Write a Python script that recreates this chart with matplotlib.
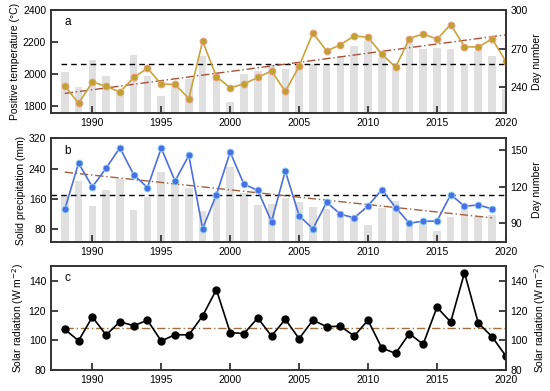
import numpy as np
import matplotlib
matplotlib.use("Agg")
import matplotlib.pyplot as plt

plt.rcParams['font.family'] = ['Liberation Sans', 'DejaVu Sans']

# --- data ---
years_a = list(range(1988, 2021))
temp_bars = [2016, 1921, 2089, 1990, 1893, 2120, 1985, 1862, 1936, 1969,
             2110, 2010, 1824, 2000, 2022, 2054, 2034, 2045, 2062, 2062,
             2114, 2176, 2208, 2100, 2040, 2214, 2155, 2165, 2155, 2062,
             2145, 2114, 1905]
day_a = [241.3, 227.4, 244.1, 240.8, 236.2, 247.6, 254.8, 242.3, 242.3, 231.2,
         275.8, 248.2, 239.6, 242.6, 247.6, 252.7, 236.7, 256.3, 282.2, 268.2,
         273.0, 279.9, 278.8, 265.9, 255.5, 277.8, 281.6, 277.3, 288.7, 271.5,
         271.2, 277.6, 260.3]
mean_a = 258.3
trend_a = [235.2, 280.7]

years_b = list(range(1988, 2020))
precip_bars = [170, 208, 141, 184, 213, 131, 166, 232, 201, 188,
               128, 175, 245, 175, 145, 147, 162, 152, 138, 134,
               125, 112, 91, 137, 155, 94, 98, 74, 113, 138,
               113, 117]
day_b = [101.5, 139.6, 120.0, 135.5, 152.2, 130.1, 119.5, 151.9, 124.9, 145.9,
         85.7, 113.7, 148.6, 122.2, 117.3, 91.6, 133.1, 96.5, 85.6, 107.4,
         97.6, 94.6, 104.4, 117.8, 103.1, 90.2, 91.9, 91.9, 113.7, 104.2,
         105.2, 102.0]
mean_b = 113.7
trend_b = [132.2, 94.6]

years_c = list(range(1988, 2021))
solar = [107.4, 99.7, 115.7, 103.6, 112.5, 109.8, 113.5, 99.5, 103.8, 103.6,
         116.4, 134.1, 105.2, 104.5, 115.0, 102.9, 114.1, 101.1, 113.5, 109.2,
         109.4, 102.9, 113.5, 94.8, 91.2, 104.5, 97.3, 122.2, 112.3, 145.5,
         111.6, 102.4, 89.4]
trend_c = [108.5, 108.5]

xticks = [1990, 1995, 2000, 2005, 2010, 2015, 2020]

bar_col = '#e0e0e0'
trend_col = '#a0603a'
spine_col = '#333333'
fs = 7.5
dashdot = (0, (6, 2, 1, 2))


def style(ax, right):
    # inward ticks on both y sides, bottom x ticks only
    ax.tick_params(direction='in', length=5, width=1.3, labelsize=fs,
                   color=spine_col, top=False, right=False)
    right.tick_params(direction='in', length=5, width=1.3, labelsize=fs,
                      color=spine_col)
    for a in (ax, right):
        for s in a.spines.values():
            s.set_linewidth(1.2)
            s.set_color(spine_col)


fig = plt.figure(figsize=(5.5, 3.91), dpi=100)
left, width = 0.0927, 0.827

# panel a
ax = fig.add_axes([left, 0.711, width, 0.2634])
ax.bar(years_a, temp_bars, width=0.55, color=bar_col, zorder=1)
ax.set_xlim(1987, 2020)
ax.set_ylim(1757, 2400)
ax.set_yticks([1800, 2000, 2200, 2400])
ax.set_xticks(xticks)
ax.set_ylabel('Positive temperature (°C)', fontsize=fs, labelpad=2)
ax2 = ax.twinx()
ax2.set_ylim(220, 300)
ax2.set_yticks([240, 270, 300])
ax2.hlines(mean_a, 1987.7, 2020, colors='k', linestyles=(0, (4, 3)), lw=1)
ax2.plot([years_a[0], years_a[-1]], trend_a, color='#a8503a', lw=1, ls=dashdot)
ax2.plot(years_a, day_a, color='#c9a43a', lw=1.2, marker='o', ms=5,
         mfc='#bea12e', mec='#f2a08a', mew=0.6)
ax2.set_ylabel('Day number', fontsize=fs, labelpad=3)
style(ax, ax2)
ax.text(0.03, 0.88, 'a', transform=ax.transAxes, fontsize=8.5, va='center')

# panel b
bx = fig.add_axes([left, 0.3818, width, 0.2645])
bx.bar(years_b, precip_bars, width=0.55, color=bar_col, zorder=1)
bx.set_xlim(1987, 2020)
bx.set_ylim(47, 320)
bx.set_yticks([80, 160, 240, 320])
bx.set_xticks(xticks)
bx.set_ylabel('Solid precipitation (mm)', fontsize=fs, labelpad=2)
bx2 = bx.twinx()
bx2.set_ylim(75, 160)
bx2.set_yticks([90, 120, 150])
bx2.axhline(mean_b, color='k', ls=(0, (4, 3)), lw=1)
bx2.plot([years_b[0], years_b[-1]], trend_b, color=trend_col, lw=1, ls=dashdot)
bx2.plot(years_b, day_b, color='#4f6fd8', lw=1.2, marker='o', ms=5,
         mfc='#4a6ee6', mec='#8fdcf0', mew=0.6)
bx2.set_ylabel('Day number', fontsize=fs, labelpad=3)
style(bx, bx2)
bx.text(0.03, 0.88, 'b', transform=bx.transAxes, fontsize=8.5, va='center')

# panel c
cx = fig.add_axes([left, 0.0537, width, 0.266])
cx.plot([years_c[0], years_c[-1]], trend_c, color='#a07040', lw=1, ls=dashdot)
cx.plot(years_c, solar, color='k', lw=1.2, marker='o', ms=5, mfc='k', mec='k')
cx.set_xlim(1987, 2020)
cx.set_ylim(80, 150)
cx.set_yticks([80, 100, 120, 140])
cx.set_xticks(xticks)
cx.set_ylabel('Solar radiation (W m$^{-2}$)', fontsize=fs, labelpad=2)
cx2 = cx.twinx()
cx2.set_ylim(80, 150)
cx2.set_yticks([80, 100, 120, 140])
cx2.set_ylabel('Solar radiation (W m$^{-2}$)', fontsize=fs, labelpad=3)
style(cx, cx2)
cx.text(0.03, 0.88, 'c', transform=cx.transAxes, fontsize=8.5, va='center')

fig.savefig('out.png', dpi=100)
